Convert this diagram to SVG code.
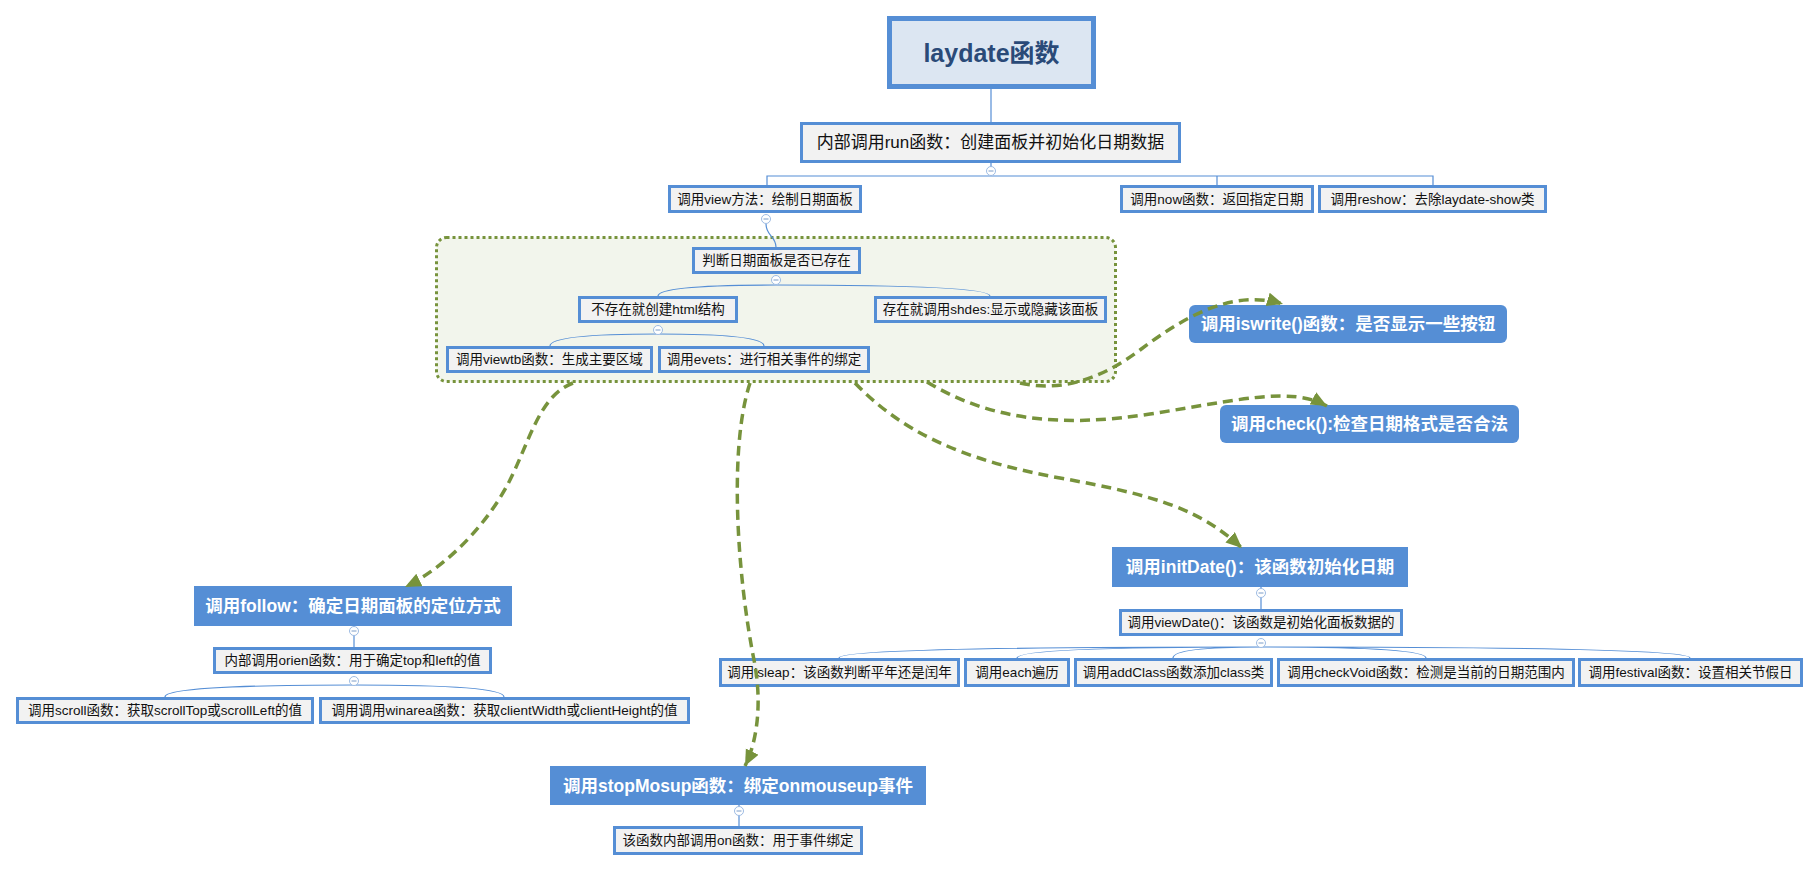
<svg xmlns="http://www.w3.org/2000/svg" width="1819" height="871" viewBox="0 0 1819 871">
<style>
.box rect{fill:#f2f2f2;stroke:#558ed5;stroke-width:3}
.t{font-family:'Liberation Sans','Noto Sans CJK SC',sans-serif;font-size:13.5px;fill:#111;text-anchor:middle;dominant-baseline:central}
.blue rect{fill:#558ed5}
.bt{font-size:17.5px;font-weight:bold;fill:#fff}
.tree{fill:none;stroke:#558ed5;stroke-width:1.2}
.rel{fill:none;stroke:#77933c;stroke-width:3.5;stroke-dasharray:10 6}
.mc circle{fill:#fff;stroke:#9dbbe3;stroke-width:1}
.mc path{stroke:#7a9cc8;stroke-width:1}
</style>
<defs>
<marker id="arr" markerUnits="userSpaceOnUse" markerWidth="18" markerHeight="16" refX="16" refY="7" orient="auto"><path d="M0,0 L16,7 L0,14 z" fill="#77933c"/></marker>
</defs>
<rect width="1819" height="871" fill="#fff"/>
<g id="boundary">
<rect x="436.5" y="237.5" width="679" height="144" rx="10" fill="#f2f5ec" stroke="#77933c" stroke-width="3" stroke-dasharray="3 3"/>
</g>
<g id="tree-connectors" class="tree">
<path d="M991 89 V122"/>
<path d="M767 185 V176 H1433 V185 M1217 176 V185 M991 163 V176"/>
<path d="M766 224 C766 236 776 236 776 247"/>
<path d="M776 285 Q658 285 658 296 M776 285 Q990 285 990 296"/>
<path d="M658 334 Q550 334 550 346 M658 334 Q764 334 764 346"/>
<path d="M354 626 V647"/>
<path d="M354 685 Q165 685 165 697 M354 685 Q504 685 504 697"/>
<path d="M1261 587 V609"/>
<path d="M1261 647 Q839 647 839 658 M1261 647 Q1017 647 1017 658 M1261 647 Q1173 647 1173 658 M1261 647 Q1426 647 1426 658 M1261 647 Q1690 647 1690 658"/>
<path d="M739 805 V826"/>
</g>
<g id="root"><rect x="889.5" y="18.5" width="204" height="68" fill="#dce6f2" stroke="#558ed5" stroke-width="5"/><text class="t" x="991.5" y="52.5" style="font-size:25px;font-weight:bold;fill:#2a4a78">laydate函数</text></g>
<g id="run" class="box"><rect x="801.5" y="123.5" width="378" height="38"/><text class="t" x="990.5" y="142.5" style="font-size:17px">内部调用run函数：创建面板并初始化日期数据</text></g>
<g id="view" class="box"><rect x="669.5" y="186.5" width="191" height="25"/><text class="t" x="765" y="199">调用view方法：绘制日期面板</text></g>
<g id="now" class="box"><rect x="1121.5" y="186.5" width="191" height="25"/><text class="t" x="1217" y="199">调用now函数：返回指定日期</text></g>
<g id="reshow" class="box"><rect x="1319.5" y="186.5" width="226" height="25"/><text class="t" x="1432.5" y="199">调用reshow：去除laydate-show类</text></g>
<g id="judge" class="box"><rect x="693.5" y="248.5" width="166" height="24"/><text class="t" x="776.5" y="260.5">判断日期面板是否已存在</text></g>
<g id="notexist" class="box"><rect x="579.5" y="297.5" width="157" height="24"/><text class="t" x="658" y="309.5">不存在就创建html结构</text></g>
<g id="exist" class="box"><rect x="875.5" y="297.5" width="230" height="24"/><text class="t" x="990.5" y="309.5">存在就调用shdes:显示或隐藏该面板</text></g>
<g id="viewtb" class="box"><rect x="447.5" y="347.5" width="204" height="24"/><text class="t" x="549.5" y="359.5">调用viewtb函数：生成主要区域</text></g>
<g id="evets" class="box"><rect x="659.5" y="347.5" width="209" height="24"/><text class="t" x="764" y="359.5">调用evets：进行相关事件的绑定</text></g>
<g id="iswrite" class="blue"><rect x="1189" y="305" width="318" height="38" rx="6"/><text class="t bt" x="1348" y="324">调用iswrite()函数：是否显示一些按钮</text></g>
<g id="check" class="blue"><rect x="1220" y="405" width="299" height="38" rx="6"/><text class="t bt" x="1369.5" y="424">调用check():检查日期格式是否合法</text></g>
<g id="initDate" class="blue"><rect x="1112" y="547" width="296" height="40"/><text class="t bt" x="1260" y="567">调用initDate()：该函数初始化日期</text></g>
<g id="viewDate" class="box"><rect x="1120.5" y="610.5" width="281" height="24"/><text class="t" x="1261" y="622.5">调用viewDate()：该函数是初始化面板数据的</text></g>
<g id="isleap" class="box"><rect x="720.5" y="659.5" width="238" height="26"/><text class="t" x="839.5" y="672.5">调用isleap：该函数判断平年还是闰年</text></g>
<g id="each" class="box"><rect x="965.5" y="659.5" width="103" height="26"/><text class="t" x="1017" y="672.5">调用each遍历</text></g>
<g id="addClass" class="box"><rect x="1075.5" y="659.5" width="196" height="26"/><text class="t" x="1173.5" y="672.5">调用addClass函数添加class类</text></g>
<g id="checkVoid" class="box"><rect x="1278.5" y="659.5" width="295" height="26"/><text class="t" x="1426" y="672.5">调用checkVoid函数：检测是当前的日期范围内</text></g>
<g id="festival" class="box"><rect x="1579.5" y="659.5" width="222" height="26"/><text class="t" x="1690.5" y="672.5">调用festival函数：设置相关节假日</text></g>
<g id="follow" class="blue"><rect x="194" y="586" width="318" height="40"/><text class="t bt" x="353" y="606">调用follow：确定日期面板的定位方式</text></g>
<g id="orien" class="box"><rect x="214.5" y="648.5" width="276" height="24"/><text class="t" x="352.5" y="660.5">内部调用orien函数：用于确定top和left的值</text></g>
<g id="scroll" class="box"><rect x="17.5" y="698.5" width="295" height="24"/><text class="t" x="165" y="710.5">调用scroll函数：获取scrollTop或scrollLeft的值</text></g>
<g id="winarea" class="box"><rect x="320.5" y="698.5" width="368" height="24"/><text class="t" x="504.5" y="710.5">调用调用winarea函数：获取clientWidth或clientHeight的值</text></g>
<g id="stopMosup" class="blue"><rect x="550" y="766" width="376" height="39"/><text class="t bt" x="738" y="785.5">调用stopMosup函数：绑定onmouseup事件</text></g>
<g id="on" class="box"><rect x="614.5" y="827.5" width="247" height="26"/><text class="t" x="738" y="840.5">该函数内部调用on函数：用于事件绑定</text></g>
<g id="collapse-buttons" class="mc">
<g><circle cx="991" cy="171" r="4.5"/><path d="M988.5 171 H993.5"/></g>
<g><circle cx="766" cy="219" r="4.5"/><path d="M763.5 219 H768.5"/></g>
<g><circle cx="776" cy="280" r="4.5"/><path d="M773.5 280 H778.5"/></g>
<g><circle cx="658" cy="330" r="4.5"/><path d="M655.5 330 H660.5"/></g>
<g><circle cx="354" cy="631" r="4.5"/><path d="M351.5 631 H356.5"/></g>
<g><circle cx="354" cy="681" r="4.5"/><path d="M351.5 681 H356.5"/></g>
<g><circle cx="1261" cy="593" r="4.5"/><path d="M1258.5 593 H1263.5"/></g>
<g><circle cx="1261" cy="643" r="4.5"/><path d="M1258.5 643 H1263.5"/></g>
<g><circle cx="739" cy="811" r="4.5"/><path d="M736.5 811 H741.5"/></g>
</g>
<g id="connectors" class="rel">
<path marker-end="url(#arr)" d="M573 383 C540 395 530 440 510 480 S450 565 405 587"/>
<path marker-end="url(#arr)" d="M750 383 C728 450 738 580 754 660 C762 700 758 740 745 766"/>
<path marker-end="url(#arr)" d="M855 383 C900 430 960 460 1060 478 S1200 510 1242 548"/>
<path marker-end="url(#arr)" d="M927 382 C990 420 1060 428 1150 414 S1290 386 1327 406"/>
<path marker-end="url(#arr)" d="M1020 383 C1060 392 1100 380 1140 350 S1230 288 1283 304"/>
</g>
</svg>
